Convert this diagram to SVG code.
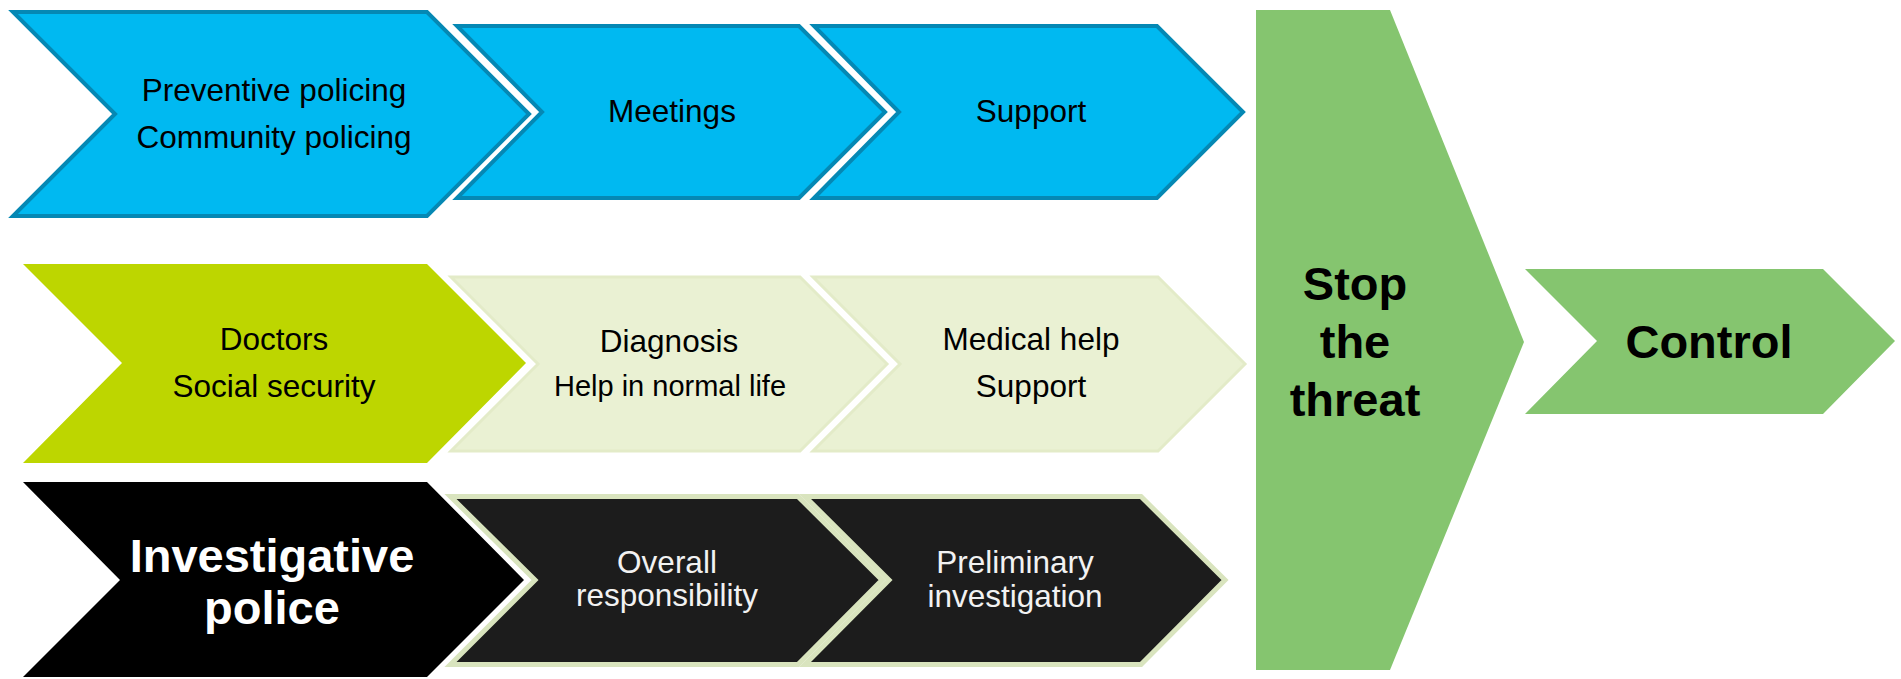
<svg xmlns="http://www.w3.org/2000/svg" width="1901" height="679" viewBox="0 0 1901 679">
<style>
.t{font-family:"Liberation Sans",Arial,sans-serif;font-size:31.5px;fill:#000;text-anchor:middle}
.w{fill:#F2F2F2}
.b{font-weight:bold;font-size:47px}
.blue{fill:#00B9F1;stroke:#0588B4;stroke-width:4;stroke-linejoin:miter}
.lime{fill:#BDD600}
.pale{fill:#EAF1D3;stroke:#E3EBC8;stroke-width:3}
.blk{fill:#000}
.dark{fill:#1C1C1C;stroke:#D9E4BE;stroke-width:5}
.grn{fill:#85C56F}
</style>
<rect width="1901" height="679" fill="#fff"/>
<g id="connectors"></g>
<g id="preventive">
<path class="blue" d="M13 12 L427 12 L529 114 L427 216 L13 216 L115 114 Z"/>
<text class="t" x="274" y="101">Preventive policing</text>
<text class="t" x="274" y="148">Community policing</text>
</g>
<g id="meetings">
<path class="blue" d="M457 26 L799 26 L885 112 L799 198 L457 198 L542 112 Z"/>
<text class="t" x="672" y="122">Meetings</text>
</g>
<g id="support1">
<path class="blue" d="M814 26 L1157 26 L1243 112 L1157 198 L814 198 L899 112 Z"/>
<text class="t" x="1031" y="122">Support</text>
</g>
<g id="doctors">
<path class="lime" d="M23 264 L427 264 L526 363 L427 463 L23 463 L122 363 Z"/>
<text class="t" x="274" y="350">Doctors</text>
<text class="t" x="274" y="397">Social security</text>
</g>
<g id="diagnosis">
<path class="pale" d="M451 277 L800 277 L887 364 L800 451 L451 451 L538 364 Z"/>
<text class="t" x="669" y="352">Diagnosis</text>
<text class="t" x="670" y="396" style="font-size:29px">Help in normal life</text>
</g>
<g id="medical">
<path class="pale" d="M813 277 L1158 277 L1245 364 L1158 451 L813 451 L900 364 Z"/>
<text class="t" x="1031" y="350">Medical help</text>
<text class="t" x="1031" y="397">Support</text>
</g>
<g id="investigative">
<path class="blk" d="M23 482 L427 482 L524 580 L427 677 L23 677 L120 580 Z"/>
<text class="t b w" x="272" y="572" style="fill:#fff">Investigative</text>
<text class="t b w" x="272" y="624" style="fill:#fff">police</text>
</g>
<g id="overall">
<path class="dark" d="M450.5 496.5 L798 496.5 L882 580 L798 664.5 L450.5 664.5 L535 580 Z"/>
<text class="t w" x="667" y="573">Overall</text>
<text class="t w" x="667" y="606">responsibility</text>
</g>
<g id="preliminary">
<path class="dark" d="M805 496.5 L1141 496.5 L1225 580 L1141 664.5 L805 664.5 L889 580 Z"/>
<text class="t w" x="1015" y="573">Preliminary</text>
<text class="t w" x="1015" y="607">investigation</text>
</g>
<g id="stop">
<path class="grn" d="M1256 10 L1390 10 L1524 342 L1390 670 L1256 670 Z"/>
<text class="t b" x="1355" y="300">Stop</text>
<text class="t b" x="1355" y="358">the</text>
<text class="t b" x="1355" y="416">threat</text>
</g>
<g id="control">
<path class="grn" d="M1525 269 L1823 269 L1895 341 L1823 414 L1525 414 L1597 341 Z"/>
<text class="t b" x="1709" y="358">Control</text>
</g>
</svg>
